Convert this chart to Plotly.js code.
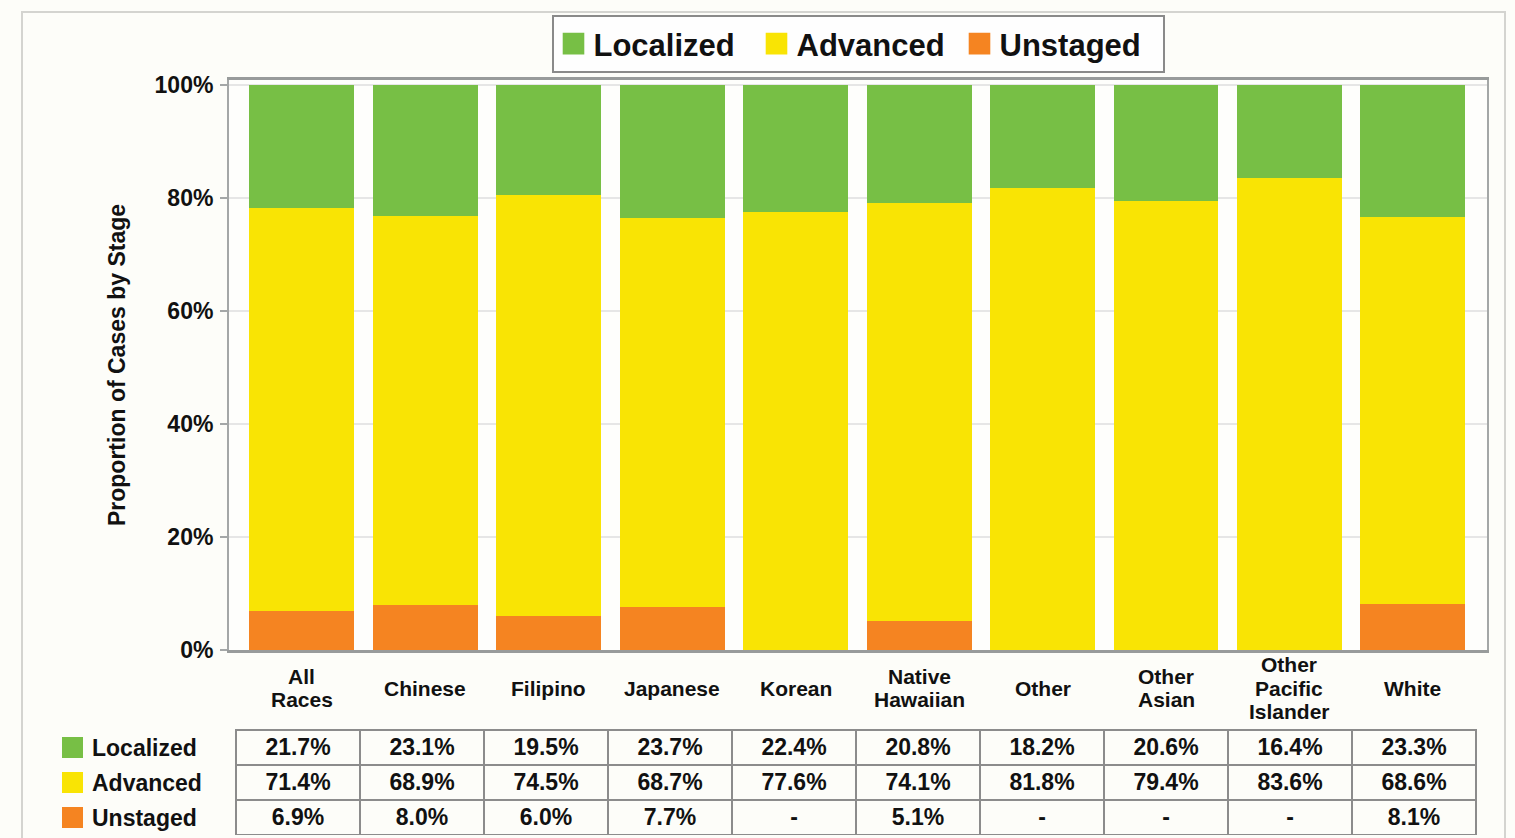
<!DOCTYPE html>
<html>
<head>
<meta charset="utf-8">
<script src="https://cdn.plot.ly/plotly-3.0.1.min.js"></script>
<style>
  html, body { margin: 0; padding: 0; background: #fdfdf9; overflow: hidden; }
  #frame { position: absolute; left: 21px; top: 11px; width: 1485px; height: 900px; border: 2px solid #d4d4d0; box-sizing: border-box; }
  #chart { position: absolute; left: 0; top: 0; width: 1515px; height: 838px; }
</style>
</head>
<body>
<div id="frame"></div>
<div id="chart"></div>
<script>
// ---- data ----
const categories = ['All Races','Chinese','Filipino','Japanese','Korean','Native Hawaiian','Other','Other Asian','Other Pacific Islander','White'];
const tickLabels = [['All','Races'],['Chinese'],['Filipino'],['Japanese'],['Korean'],['Native','Hawaiian'],['Other'],['Other','Asian'],['Other','Pacific','Islander'],['White']];
const localized = [21.7, 23.1, 19.5, 23.7, 22.4, 20.8, 18.2, 20.6, 16.4, 23.3];
const advanced  = [71.4, 68.9, 74.5, 68.7, 77.6, 74.1, 81.8, 79.4, 83.6, 68.6];
const unstaged  = [6.9, 8.0, 6.0, 7.7, null, 5.1, null, null, null, 8.1];
const seriesNames = ['Localized','Advanced','Unstaged'];
const yTicks = [0, 20, 40, 60, 80, 100];

// ---- styles ----
const colors = {Localized: '#77bf45', Advanced: '#f9e404', Unstaged: '#f58421'};
const FONT = '"Liberation Sans", Arial, sans-serif';
const W = 1515, H = 838;
const M = {l: 229, r: 28, t: 80, b: 0};
const plotBottomPx = 650, tableTopPx = 730, rowH = 35;
const paperW = W - M.l - M.r, paperH = H - M.t - M.b;
const xp = px => (px - M.l) / paperW;
const yp = py => (H - M.b - py) / paperH;

const fmt = v => (v === null || v === undefined) ? '-' : v.toFixed(1) + '%';

const barTrace = (name, vals) => ({
  type: 'bar', name: name, x: categories, y: vals,
  marker: {color: colors[name], line: {width: 0}},
  width: 0.85, hoverinfo: 'skip', showlegend: true
});

const tableFont = {family: FONT, size: 23, color: '#111', weight: 'bold'};
const traces = [
  barTrace('Unstaged', unstaged),
  barTrace('Advanced', advanced),
  barTrace('Localized', localized),
  {
    type: 'table',
    domain: {x: [xp(236), xp(1476)], y: [yp(tableTopPx + 3 * rowH), yp(tableTopPx)]},
    columnwidth: categories.map(() => 1),
    header: {
      values: localized.map(v => [fmt(v)]),
      height: rowH, align: 'center',
      line: {color: '#8c8c8c', width: 2},
      fill: {color: '#fdfdf9'},
      font: tableFont
    },
    cells: {
      values: categories.map((c, i) => [fmt(advanced[i]), fmt(unstaged[i])]),
      height: rowH, align: 'center',
      line: {color: '#8c8c8c', width: 2},
      fill: {color: '#fdfdf9'},
      font: tableFont
    }
  }
];

const annotations = [];
// category labels (one annotation per line for tight leading)
const lineStep = 23.5;
tickLabels.forEach((lines, i) => {
  const n = lines.length;
  lines.forEach((ln, j) => {
    annotations.push({
      xref: 'x', yref: 'paper', x: categories[i], y: yp(688),
      yshift: -((j - (n - 1) / 2) * lineStep), showarrow: false,
      text: ln, xanchor: 'center', yanchor: 'middle',
      font: {family: FONT, size: 21, color: '#111', weight: 'bold'}
    });
  });
});
// table row labels with colour keys
const shapes = [];
seriesNames.forEach((s, i) => {
  const cy = tableTopPx + rowH * i + rowH / 2;
  annotations.push({
    xref: 'paper', yref: 'paper', x: xp(90), y: yp(cy),
    showarrow: false, text: s, xanchor: 'left', yanchor: 'middle',
    font: {family: FONT, size: 23, color: '#111', weight: 'bold'}
  });
  shapes.push({
    type: 'rect', xref: 'paper', yref: 'paper',
    x0: xp(62), x1: xp(83), y0: yp(cy - 10.5), y1: yp(cy + 10.5),
    fillcolor: colors[s], line: {width: 0}
  });
});

const layout = {
  width: W, height: H,
  margin: M,
  paper_bgcolor: 'rgba(0,0,0,0)',
  plot_bgcolor: '#fefefc',
  barmode: 'stack',
  font: {family: FONT, color: '#111'},
  showlegend: true,
  legend: {
    orientation: 'h', traceorder: 'reversed',
    x: 0.5, xanchor: 'center', xref: 'paper',
    y: yp(44), yanchor: 'middle', yref: 'paper',
    bordercolor: '#8a8a8a', borderwidth: 2, bgcolor: '#fefefe',
    font: {family: FONT, size: 31, color: '#111', weight: 'bold'},
    entrywidth: 158, entrywidthmode: 'pixels',
    itemclick: false, itemdoubleclick: false
  },
  xaxis: {
    type: 'category', range: [-0.59, 9.6],
    showticklabels: false, ticks: '',
    showline: true, linecolor: '#989b9b', linewidth: 2.5, mirror: true,
    showgrid: false, zeroline: false, fixedrange: true
  },
  yaxis: {
    domain: [yp(plotBottomPx), 1],
    range: [0, 100.9],
    tickvals: yTicks, ticktext: yTicks.map(v => v + '%'),
    ticks: 'outside', ticklen: 7, tickwidth: 2, tickcolor: '#a4a7a7',
    ticklabelstandoff: 2,
    showline: true, linecolor: '#a4a7a7', linewidth: 2, mirror: true,
    showgrid: true, gridcolor: '#e6e6e6', gridwidth: 1.5, zeroline: false,
    tickfont: {family: FONT, size: 23, color: '#111', weight: 'bold'},
    title: {text: 'Proportion of Cases by Stage', standoff: 23,
            font: {family: FONT, size: 23, color: '#111', weight: 'bold'}},
    automargin: false, fixedrange: true
  },
  annotations: annotations,
  shapes: shapes
};

Plotly.newPlot('chart', traces, layout, {displayModeBar: false}).then(() => {
  document.querySelectorAll('.legend .legendpoints path').forEach(p => {
    const t = p.getAttribute('transform') || '';
    p.setAttribute('transform', t + ' scale(1.8)');
  });
});
</script>
</body>
</html>
